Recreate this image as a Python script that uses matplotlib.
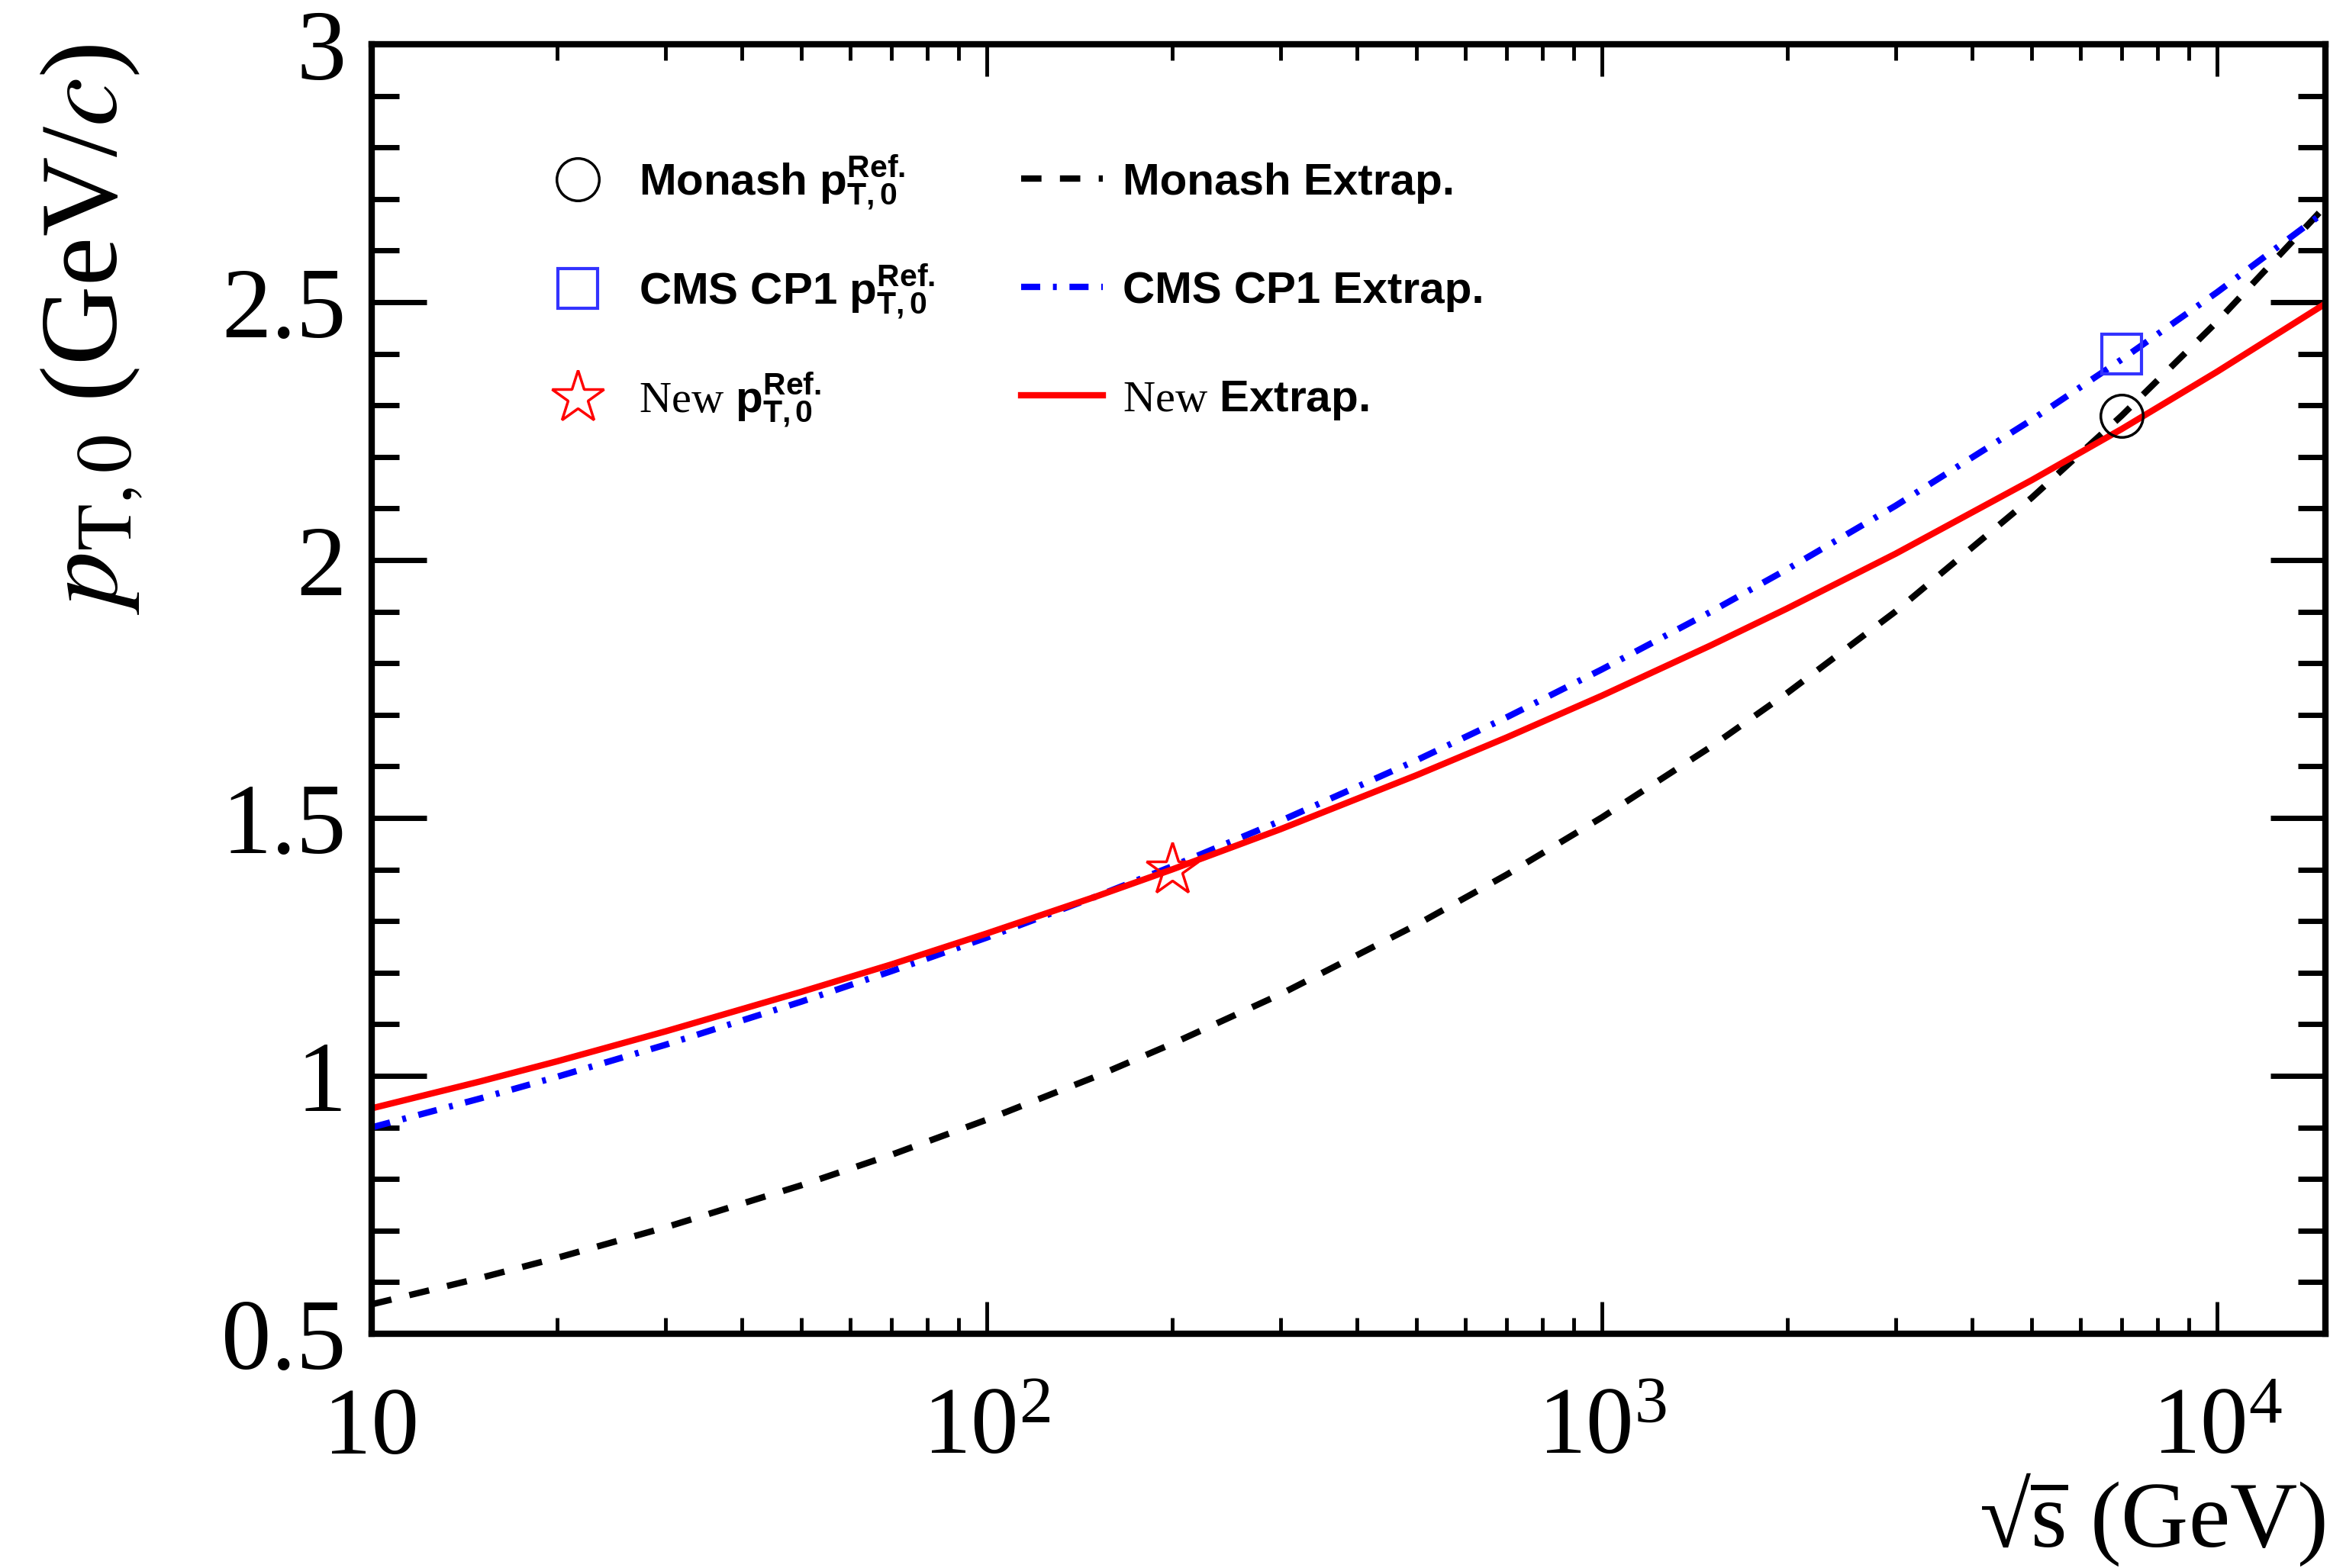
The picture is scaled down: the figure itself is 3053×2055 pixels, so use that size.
import matplotlib
matplotlib.use('Agg')
import matplotlib.pyplot as plt
import numpy as np
from matplotlib.ticker import FixedLocator, FixedFormatter, LogLocator, NullFormatter, MultipleLocator

plt.rcParams['mathtext.fontset'] = 'custom'
plt.rcParams['mathtext.rm'] = 'Liberation Serif'
plt.rcParams['mathtext.it'] = 'Liberation Serif:italic'
plt.rcParams['mathtext.bf'] = 'Liberation Sans:bold'

# ---- data ----
sqrt_s = [10, 15, 20, 30, 50, 70, 100, 150, 200, 300, 500, 700,
          1000, 1500, 2000, 3000, 5000, 7000, 10000, 15000]
monash_extrap = [0.557, 0.608, 0.647, 0.706, 0.788, 0.847, 0.915, 0.998,
                 1.062, 1.158, 1.293, 1.390, 1.501, 1.637, 1.742, 1.900,
                 2.121, 2.280, 2.462, 2.686]
cp1_extrap = [0.900, 0.956, 0.998, 1.060, 1.144, 1.203, 1.268, 1.347,
              1.406, 1.494, 1.612, 1.695, 1.788, 1.899, 1.982, 2.105,
              2.272, 2.389, 2.519, 2.676]
new_extrap = [0.937, 0.989, 1.028, 1.086, 1.163, 1.216, 1.276, 1.347,
              1.400, 1.478, 1.583, 1.656, 1.737, 1.834, 1.906, 2.012,
              2.155, 2.254, 2.365, 2.497]

monash_ref_x, monash_ref_y = [7000], [2.28]
cp1_ref_x, cp1_ref_y = [7000], [2.40]
new_ref_x, new_ref_y = [200], [1.40]

xtick_vals = [10, 100, 1000, 10000]
xtick_labels = ['10', r'$10^{2}$', r'$10^{3}$', r'$10^{4}$']
ytick_vals = [0.5, 1.0, 1.5, 2.0, 2.5, 3.0]
ytick_labels = ['0.5', '1', '1.5', '2', '2.5', '3']

# ---- figure ----
fig = plt.figure(figsize=(30.53, 20.55), dpi=100)
ax = fig.add_axes([0.1595, 0.1494, 0.8385, 0.8224])

LW = 6.0
l_mon, = ax.plot(sqrt_s, monash_extrap, color='black', lw=LW, dashes=(3.2, 2.9))
l_cp1, = ax.plot(sqrt_s, cp1_extrap, color='#0000ff', lw=LW, dashes=(3.0, 2.0, 0.6, 2.0))
l_new, = ax.plot(sqrt_s, new_extrap, color='#ff0000', lw=LW)

m_mon, = ax.plot(monash_ref_x, monash_ref_y, ls='none', marker='o', ms=40,
                 mfc='none', mec='black', mew=2.5)
m_cp1, = ax.plot(cp1_ref_x, cp1_ref_y, ls='none', marker='s', ms=38,
                 mfc='none', mec='#3333ff', mew=3)
m_new, = ax.plot(new_ref_x, new_ref_y, ls='none', marker='*', ms=52,
                 mfc='none', mec='#ff0000', mew=2.5)

ax.set_xscale('log')
ax.set_xlim(10, 15000)
ax.set_ylim(0.5, 3.0)

ax.xaxis.set_major_locator(FixedLocator(xtick_vals))
ax.xaxis.set_major_formatter(FixedFormatter(xtick_labels))
ax.xaxis.set_minor_locator(LogLocator(base=10, subs=np.arange(2, 10)))
ax.xaxis.set_minor_formatter(NullFormatter())
ax.yaxis.set_major_locator(FixedLocator(ytick_vals))
ax.yaxis.set_major_formatter(FixedFormatter(ytick_labels))
ax.yaxis.set_minor_locator(MultipleLocator(0.1))

for s in ax.spines.values():
    s.set_linewidth(6)

ax.tick_params(axis='y', which='major', direction='in', length=52, width=5,
               left=True, right=True, labelsize=94, pad=24)
ax.tick_params(axis='y', which='minor', direction='in', length=26, width=5,
               left=True, right=True)
ax.tick_params(axis='x', which='major', direction='in', length=30, width=3.5,
               bottom=True, top=True, labelsize=90, pad=113)
ax.tick_params(axis='x', which='minor', direction='in', length=15, width=3.5,
               bottom=True, top=True)

for t in ax.get_yticklabels():
    t.set_fontfamily('Liberation Serif')
for t in ax.get_xticklabels():
    t.set_fontfamily('Liberation Serif')
    t.set_verticalalignment('baseline')

fig.text(0.0167, 0.972, r'$p_{\mathrm{T,0}}$ (GeV/$c$)', rotation=90,
         ha='left', va='top', fontsize=104, family='Liberation Serif',
         math_fontfamily='stix')
fig.text(0.998, 0.0, '\u221a' + r'$\overline{\mathrm{s}}$ (GeV)', ha='right',
         va='bottom', fontsize=88, family='Liberation Serif',
         math_fontfamily='custom')

leg_prop = {'family': 'Liberation Sans', 'weight': 'bold', 'size': 42}
labels_ref = [r'Monash $\mathbf{p}^{\mathbf{Ref.}}_{\mathbf{T,0}}$',
              r'CMS CP1 $\mathbf{p}^{\mathbf{Ref.}}_{\mathbf{T,0}}$',
              r'$\mathrm{New}$ $\mathbf{p}^{\mathbf{Ref.}}_{\mathbf{T,0}}$']
labels_ext = ['Monash Extrap.', 'CMS CP1 Extrap.', r'$\mathrm{New}$ Extrap.']

leg1 = ax.legend([m_mon, m_cp1, m_new], labels_ref, loc='upper left',
                 bbox_to_anchor=(0.0846, 0.916), frameon=False, prop=leg_prop,
                 handlelength=1.83, handletextpad=0.45, labelspacing=1.11,
                 borderpad=0, borderaxespad=0, markerscale=1.0)
ax.add_artist(leg1)
leg2 = ax.legend([l_mon, l_cp1, l_new], labels_ext, loc='upper left',
                 bbox_to_anchor=(0.3324, 0.9085), frameon=False, prop=leg_prop,
                 handlelength=1.83, handletextpad=0.45, labelspacing=1.51,
                 borderpad=0, borderaxespad=0)

fig.savefig('out.png', dpi=100)
